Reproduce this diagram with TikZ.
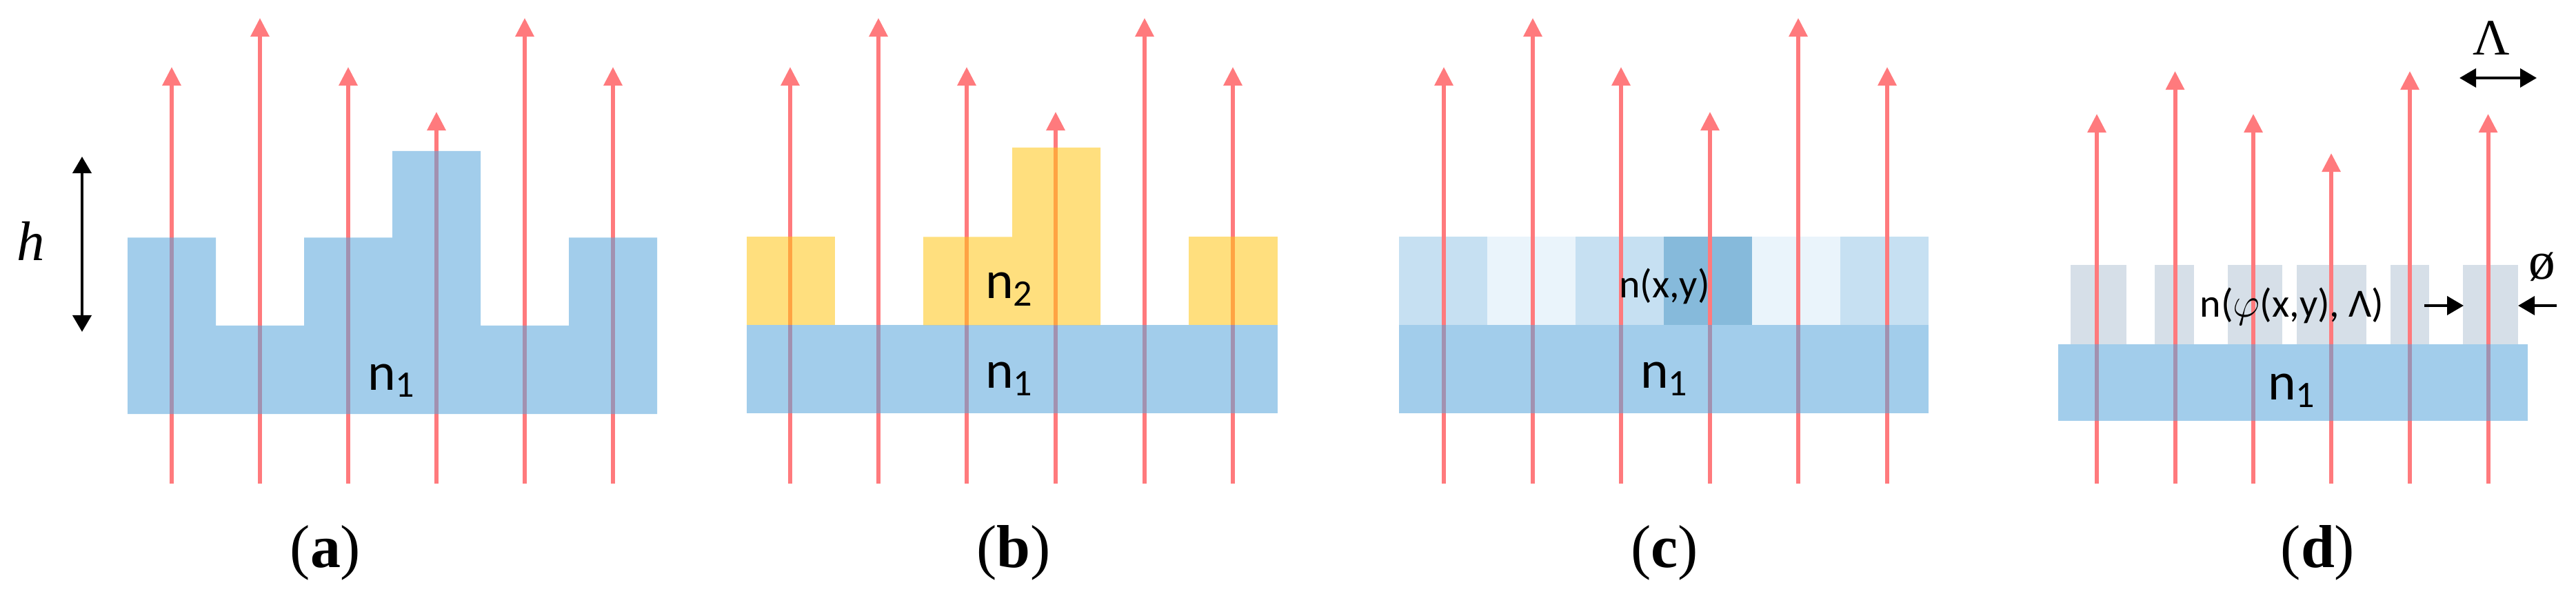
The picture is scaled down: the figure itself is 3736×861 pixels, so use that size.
\documentclass[tikz,border=0pt]{standalone}
\usepackage{fontspec}
\setmainfont{Liberation Serif}
\newfontfamily\calibri{Carlito}
\usepackage{tikz}
\usetikzlibrary{arrows.meta}

\definecolor{substrate}{RGB}{86,164,219}
\definecolor{layer}{RGB}{255,197,20}
\definecolor{cellmid}{RGB}{198,224,242}
\definecolor{celllow}{RGB}{234,244,251}
\definecolor{cellhigh}{RGB}{134,186,219}
\definecolor{pillar}{RGB}{214,223,232}
\definecolor{ray}{RGB}{255,122,125}

\tikzset{
  raypath/.style={line width=0.6mm,ray,-{Triangle[length=2.7mm,width=2.6mm]}},
  glass/.style={fill opacity=0.55},
  oneway/.style={line width=0.4mm,-{Triangle[length=2.4mm,width=2.7mm]}},
  twoway/.style={line width=0.4mm,{Triangle[length=2.4mm,width=2.7mm]}-{Triangle[length=2.4mm,width=2.7mm]}},
  idx/.style={font=\calibri\fontsize{22}{26}\selectfont,anchor=base,inner sep=0pt},
  idxsmall/.style={font=\calibri\fontsize{16.5}{20}\selectfont,anchor=base,inner sep=0pt},
  caption/.style={font=\fontsize{25}{30}\selectfont,inner sep=0pt},
  symb/.style={font=\fontsize{22}{26}\selectfont,inner sep=0pt}
}

\begin{document}
\begin{tikzpicture}[x=0.01cm,y=-0.01cm]
\useasboundingbox (0,0) rectangle (3736,861);

% Surface relief
\begin{scope}[shift={(185,0)}]
\foreach \x/\t in {64/97,192/26,320/97,448/162,576/26,704/97}
  \draw[raypath] (\x,701) -- (\x,\t);
\fill[substrate,glass] (0,344.5) -- (128,344.5) -- (128,472) -- (256,472) -- (256,344.5) -- (384,344.5) -- (384,219) -- (512,219) -- (512,472) -- (640,472) -- (640,344.5) -- (768,344.5) -- (768,600) -- (0,600) -- cycle;
\coordinate (htop) at (-66,227);
\coordinate (hbot) at (-66,481);
\draw[twoway] (htop) -- (hbot);
\node[symb,font=\fontsize{23}{27}\selectfont] (hlabel) at (-140,349) {\textit{h}};
\node[idx] (na1) at (383,565) {n\textsubscript{1}};
\node[caption] (capa) at (287,801) {(\textbf{a})};
\end{scope}

% Two materials
\begin{scope}[shift={(1083,0)}]
\foreach \x/\t in {63/97,191/26,319/97,448/162,577/26,705/97}
  \draw[raypath] (\x,701) -- (\x,\t);
\fill[substrate,glass] (0,471.5) rectangle (770,599);
\fill[layer,glass] (0,343.5) rectangle (128,471.5);
\fill[layer,glass] (256,471.5) -- (256,343.5) -- (385,343.5) -- (385,214) -- (513,214) -- (513,471.5) -- cycle;
\fill[layer,glass] (641,343.5) rectangle (770,471.5);
\node[idx] (nb2) at (381,433) {n\textsubscript{2}};
\node[idx] (nb1) at (381,563) {n\textsubscript{1}};
\node[caption] (capb) at (387,801) {(\textbf{b})};
\end{scope}

% Graded index
\begin{scope}[shift={(2029,0)}]
\fill[cellmid] (0,343.5) rectangle (128,471.5);
\fill[celllow] (128,343.5) rectangle (256,471.5);
\fill[cellmid] (256,343.5) rectangle (384,471.5);
\fill[cellhigh] (384,343.5) rectangle (512,471.5);
\fill[celllow] (512,343.5) rectangle (640,471.5);
\fill[cellmid] (640,343.5) rectangle (768,471.5);
\foreach \x/\t in {65/97,194/26,322/97,451/162,579/26,708/97}
  \draw[raypath] (\x,701) -- (\x,\t);
\fill[substrate,glass] (0,471.5) rectangle (768,599);
\node[idxsmall] (ncxy) at (385,432) {n(x,y)};
\node[idx] (nc1) at (385,563) {n\textsubscript{1}};
\node[caption] (capc) at (385,801) {(\textbf{c})};
\end{scope}

% Metasurface
\begin{scope}[shift={(2985,0)}]
\fill[pillar] (18,384.5) rectangle (99,499);
\fill[pillar] (140,384.5) rectangle (197,499);
\fill[pillar] (246,384.5) rectangle (325,499);
\fill[pillar] (346,384.5) rectangle (447,499);
\fill[pillar] (482,384.5) rectangle (538,499);
\fill[pillar] (587,384.5) rectangle (667,499);
\foreach \x/\t in {56/165,169.5/103,283/165,396/222,510/103,623.5/165}
  \draw[raypath] (\x,701) -- (\x,\t);
\fill[substrate,glass] (0,499) rectangle (681,610);
\coordinate (lamleft) at (582,113);
\coordinate (lamright) at (694,113);
\draw[twoway] (lamleft) -- (lamright);
\node[symb,font=\fontsize{21}{25}\selectfont] (lamlabel) at (628,55) {Λ};
\coordinate (dleft) at (531,443);
\coordinate (dleftend) at (588,443);
\coordinate (dright) at (723,443);
\coordinate (drightend) at (667,443);
\draw[oneway] (dleft) -- (dleftend);
\draw[oneway] (dright) -- (drightend);
\node[symb] (dlabel) at (702,387) {ø};
\node[idxsmall] (ndphi) at (339,460) {n($\varphi$(x,y), Λ)};
\node[idx] (nd1) at (339,580) {n\textsubscript{1}};
\node[caption] (capd) at (376.5,801) {(\textbf{d})};
\end{scope}
\end{tikzpicture}
\end{document}
